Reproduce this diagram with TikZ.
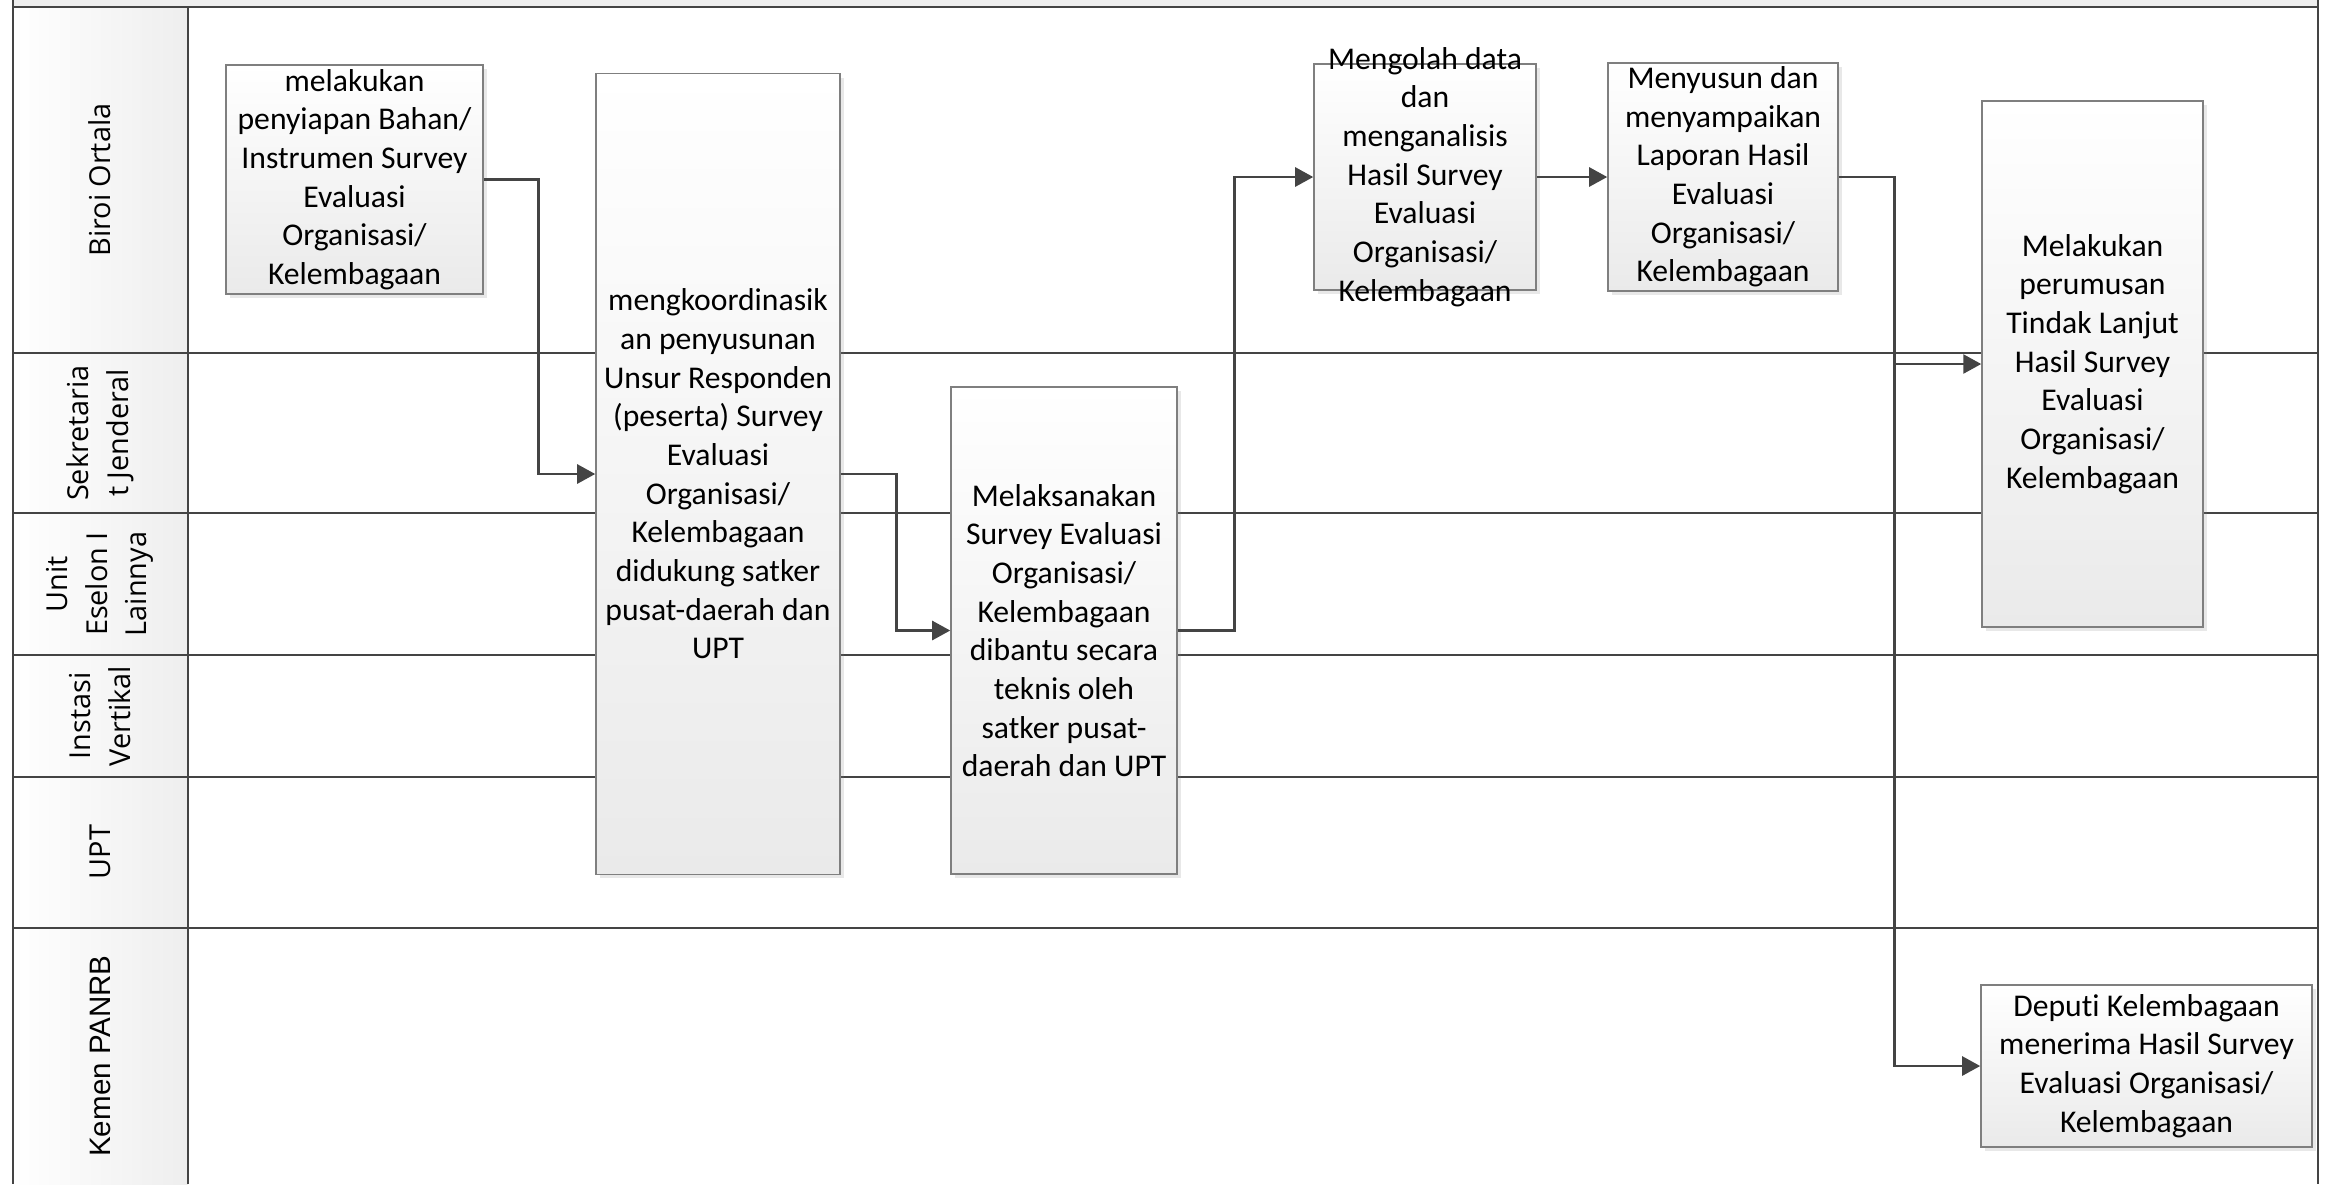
\documentclass[tikz,border=0pt]{standalone}
\usepackage{fontspec}
\setmainfont{Carlito}[Ligatures=NoCommon]
\newfontfamily\lanefont{Open Sans}
\newfontfamily\panrbfont{Liberation Sans}
\usetikzlibrary{arrows.meta,calc,positioning,shadows}
\definecolor{ink}{HTML}{444444}
\definecolor{boxline}{HTML}{7F7F7F}
\definecolor{headfill}{HTML}{EEEEEE}
\definecolor{boxbot}{HTML}{EAEAEA}

\begin{document}
\begin{tikzpicture}[x=0.01cm,y=-0.01cm,
  laneline/.style={draw=ink,line width=0.6pt},
  lanelabel/.style={rotate=90,align=center,font=\lanefont\fontsize{8.2}{11.3}\selectfont},
  procbox/.style={draw=boxline,line width=0.4pt,top color=white,bottom color=boxbot,
    inner sep=1pt,align=center,font=\fontsize{9}{11}\selectfont,
    drop shadow={shadow xshift=1.2pt,shadow yshift=-1.2pt,opacity=0.18}},
  boxtext/.style={align=center,inner sep=0pt,font=\fontsize{9}{11}\selectfont},
  flow/.style={draw=ink,line width=0.75pt,-{Triangle[length=0.18cm,width=0.19cm]}}]
\useasboundingbox (0,0) rectangle (2331,1184);

% pool frame and lanes
\fill[headfill] (13,0) rectangle (2318,7);
\shade[left color=white,right color=headfill] (13,7) rectangle (188,1184);
\foreach \y in {353,513,655,777,928} {\draw[laneline] (13,\y) -- (2318,\y);}
\draw[laneline] (13,7) -- (2318,7);
\draw[laneline] (13,0) -- (13,1184);
\draw[laneline] (188,7) -- (188,1184);
\draw[laneline] (2318,0) -- (2318,1184);

\node[lanelabel] (biroi) at (100,180) {Biroi Ortala};
\node[lanelabel] (sekjen) at (100,433) {Sekretaria\\t Jenderal};
\node[lanelabel] (eselon) at (100,584) {Unit\\Eselon I\\Lainnya};
\node[lanelabel] (vertikal) at (100,716) {Instasi\\Vertikal};
\node[lanelabel] (upt) at (100,852) {UPT};
\node[lanelabel,font=\panrbfont\fontsize{8.4}{10}\selectfont] (kemen) at (100,1056) {Kemen PANRB};

% steps
\node[procbox,minimum width=2.57cm,minimum height=2.29cm] (siapkan) at (354.5,179.5)
  {melakukan\\penyiapan Bahan/\\Instrumen Survey\\Evaluasi\\Organisasi/\\Kelembagaan};
\node[procbox,minimum width=2.44cm,minimum height=8.00cm] (koordinasi) at (718,474)
  {mengkoordinasik\\an penyusunan\\Unsur Responden\\(peserta) Survey\\Evaluasi\\Organisasi/\\Kelembagaan\\didukung satker\\pusat-daerah dan\\UPT};
\node[procbox,minimum width=2.26cm,minimum height=4.87cm] (laksana) at (1064,630.5)
  {Melaksanakan\\Survey Evaluasi\\Organisasi/\\Kelembagaan\\dibantu secara\\teknis oleh\\satker pusat-\\daerah dan UPT};
\node[procbox,minimum width=2.22cm,minimum height=2.26cm] (olah) at (1425,177) {};
\node[boxtext] (olahtext) at (olah.center)
  {Mengolah data\\dan\\menganalisis\\Hasil Survey\\Evaluasi\\Organisasi/\\Kelembagaan};
\node[procbox,minimum width=2.30cm,minimum height=2.26cm] (susun) at (1723,177)
  {Menyusun dan\\menyampaikan\\Laporan Hasil\\Evaluasi\\Organisasi/\\Kelembagaan};
\node[procbox,minimum width=2.21cm,minimum height=5.26cm] (tindak) at (2092.5,364)
  {Melakukan\\perumusan\\Tindak Lanjut\\Hasil Survey\\Evaluasi\\Organisasi/\\Kelembagaan};
\node[procbox,minimum width=3.31cm,minimum height=1.62cm] (deputi) at (2146.5,1066)
  {Deputi Kelembagaan\\menerima Hasil Survey\\Evaluasi Organisasi/\\Kelembagaan};

% flow
\draw[flow] (siapkan.east) -- ++(55,0) |- (koordinasi.west);
\draw[flow] (koordinasi.east) -- ++(56,0) |- (laksana.west);
\draw[flow] (laksana.east) -- ++(57,0) |- (olah.west);
\draw[flow] (olah.east) -- (susun.west);
\draw[flow] (susun.east) -- ++(56,0) |- (tindak.west);
\draw[flow] (susun.east) -- ++(56,0) |- (deputi.west);
\end{tikzpicture}
\end{document}
